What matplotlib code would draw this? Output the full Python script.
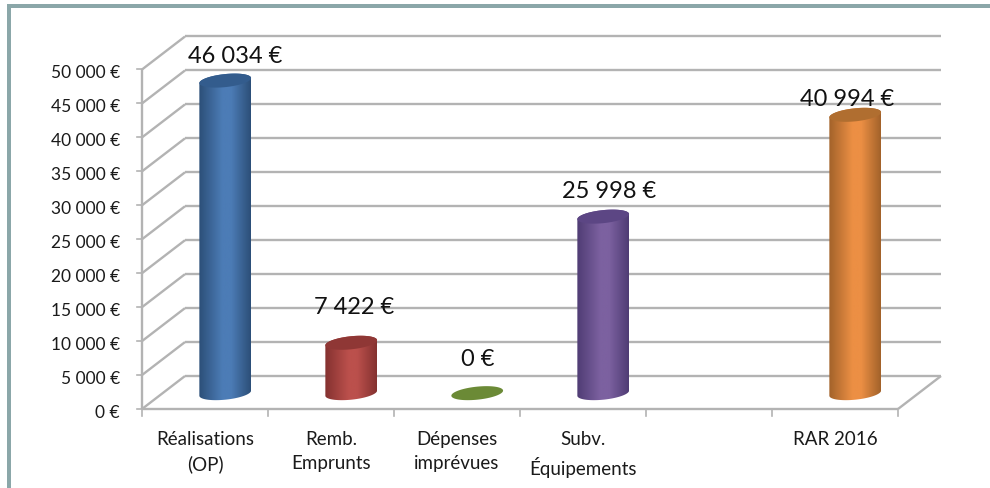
import numpy as np
import matplotlib
matplotlib.use("Agg")
import matplotlib.pyplot as plt
from matplotlib.patches import Polygon
from matplotlib.colors import LinearSegmentedColormap

categories = ["Réalisations\n(OP)", "Remb.\nEmprunts", "Dépenses\nimprévues", "Subv.\nÉquipements", "", "RAR 2016"]
values = [46034, 7422, 0, 25998, None, 40994]
value_labels = ["46 034 €", "7 422 €", "0 €", "25 998 €", None, "40 994 €"]
y_ticks = [0, 5000, 10000, 15000, 20000, 25000, 30000, 35000, 40000, 45000, 50000]
y_tick_labels = ["0 €", "5 000 €", "10 000 €", "15 000 €", "20 000 €", "25 000 €",
                 "30 000 €", "35 000 €", "40 000 €", "45 000 €", "50 000 €"]
edge_colors = ["#2c4f78", "#843130", None, "#4f3c74", None, "#a2622a"]
mid_colors = ["#4c7cb6", "#bb504c", None, "#7c61a0", None, "#ec8f44"]
cap_colors = ["#335c8d", "#8f3735", "#6b8a36", "#5c4684", None, "#b06e30"]
label_dx = [10, 3, 1, 6, 0, -8]     # px offset of value label from bar centre
label_dy = [25, 36, 35, 26, 0, 16]  # px offset above bar top

W, H = 990, 489
plt.rcParams["font.family"] = ["Lato", "DejaVu Sans"]
fig = plt.figure(figsize=(W / 100, H / 100), dpi=100)
fig.patch.set_facecolor("white")

FX0, FX1, FY0, FY1 = 142, 898, 410, 70.5
ax = fig.add_axes([FX0 / W, 1 - FY0 / H, (FX1 - FX0) / W, (FY0 - FY1) / H])
ax.set_xlim(-0.5, 5.5)
ax.set_ylim(0, 50000)
ax.axis("off")

sx = 6 / (FX1 - FX0)
sy = 50000 / (FY0 - FY1)
DX, DY = 43 * sx, 33 * sy   # full depth of the floor, in data units
GRID = "#b3b3b3"
kw = dict(color=GRID, lw=1.7, clip_on=False, solid_capstyle="butt", zorder=1)

for v in y_ticks:
    ax.plot([-0.5, -0.5 + DX], [v, v + DY], **kw)
    ax.plot([-0.5 + DX, 5.5 + DX], [v + DY, v + DY], **kw)
    ax.plot([-0.5 - 5 * sx, -0.5], [v, v], color=GRID, lw=1.2, clip_on=False, zorder=1)
    ax.text(-0.5 - 22 * sx, v - 3 * sy, y_tick_labels[v // 5000], ha="right", va="center",
            fontsize=12.5, color="#1a1a1a", clip_on=False)

ax.plot([-0.5, -0.5], [0, 50000], **kw)
ax.plot([-0.5, 5.5], [0, 0], **kw)
ax.plot([5.5, 5.5 + DX], [0, DY], **kw)

for i, c in enumerate(categories):
    ax.plot([i - 0.5, i - 0.5], [0, -7 * sy], color=GRID, lw=1.2, clip_on=False, zorder=1)
    ax.text(i, -21 * sy, c, ha="center", va="top", fontsize=13.5, color="#1a1a1a",
            linespacing=1.5, clip_on=False)
ax.plot([5.5, 5.5], [0, -7 * sy], color=GRID, lw=1.2, clip_on=False, zorder=1)

A, B, TH = 26.0, 6.5, np.radians(6)

def arc(xc, yc, t):
    px = A * np.cos(t) * np.cos(TH) - B * np.sin(t) * np.sin(TH)
    py = A * np.cos(t) * np.sin(TH) + B * np.sin(t) * np.cos(TH)
    return np.column_stack([xc + px * sx, yc + py * sy])

for i, v in enumerate(values):
    if v is None:
        continue
    xc, y0 = i + DX * 0.47, DY * 0.48
    yt = y0 + v
    if v > 0:
        body = np.vstack([arc(xc, y0, np.linspace(np.pi, 2 * np.pi, 50)),
                          arc(xc, yt, np.linspace(0, np.pi, 50))])
        patch = Polygon(body, closed=True, fc="none", ec="none", transform=ax.transData)
        ax.add_patch(patch)
        cmap = LinearSegmentedColormap.from_list(
            "c", [(0, edge_colors[i]), (0.45, mid_colors[i]), (0.62, mid_colors[i]), (1, edge_colors[i])])
        im = ax.imshow(np.linspace(0, 1, 128)[None, :], cmap=cmap, aspect="auto",
                       extent=[xc - A * sx, xc + A * sx, y0 - 2 * B * sy, yt + 2 * B * sy],
                       zorder=3, clip_on=True)
        im.set_clip_path(patch)
    ax.add_patch(Polygon(arc(xc, yt, np.linspace(0, 2 * np.pi, 80)), closed=True,
                         fc=cap_colors[i], ec="none", zorder=4, clip_on=False))
    ax.text(xc + label_dx[i] * sx, yt + label_dy[i] * sy, value_labels[i], ha="center",
            va="center", fontsize=17, color="#111111", zorder=5, clip_on=False)

ax.set_xlim(-0.5, 5.5)
ax.set_ylim(0, 50000)

# outer frame, top and left edges of the slide panel
frame = "#8ba7a9"
fig.add_artist(plt.Rectangle((7 / W, 0), 4 / W, 1 - 5 / H, transform=fig.transFigure, fc=frame, ec="none"))
fig.add_artist(plt.Rectangle((7 / W, 1 - 9 / H), 1 - 7 / W, 4 / H, transform=fig.transFigure, fc=frame, ec="none"))

fig.savefig("out.png", dpi=100)
